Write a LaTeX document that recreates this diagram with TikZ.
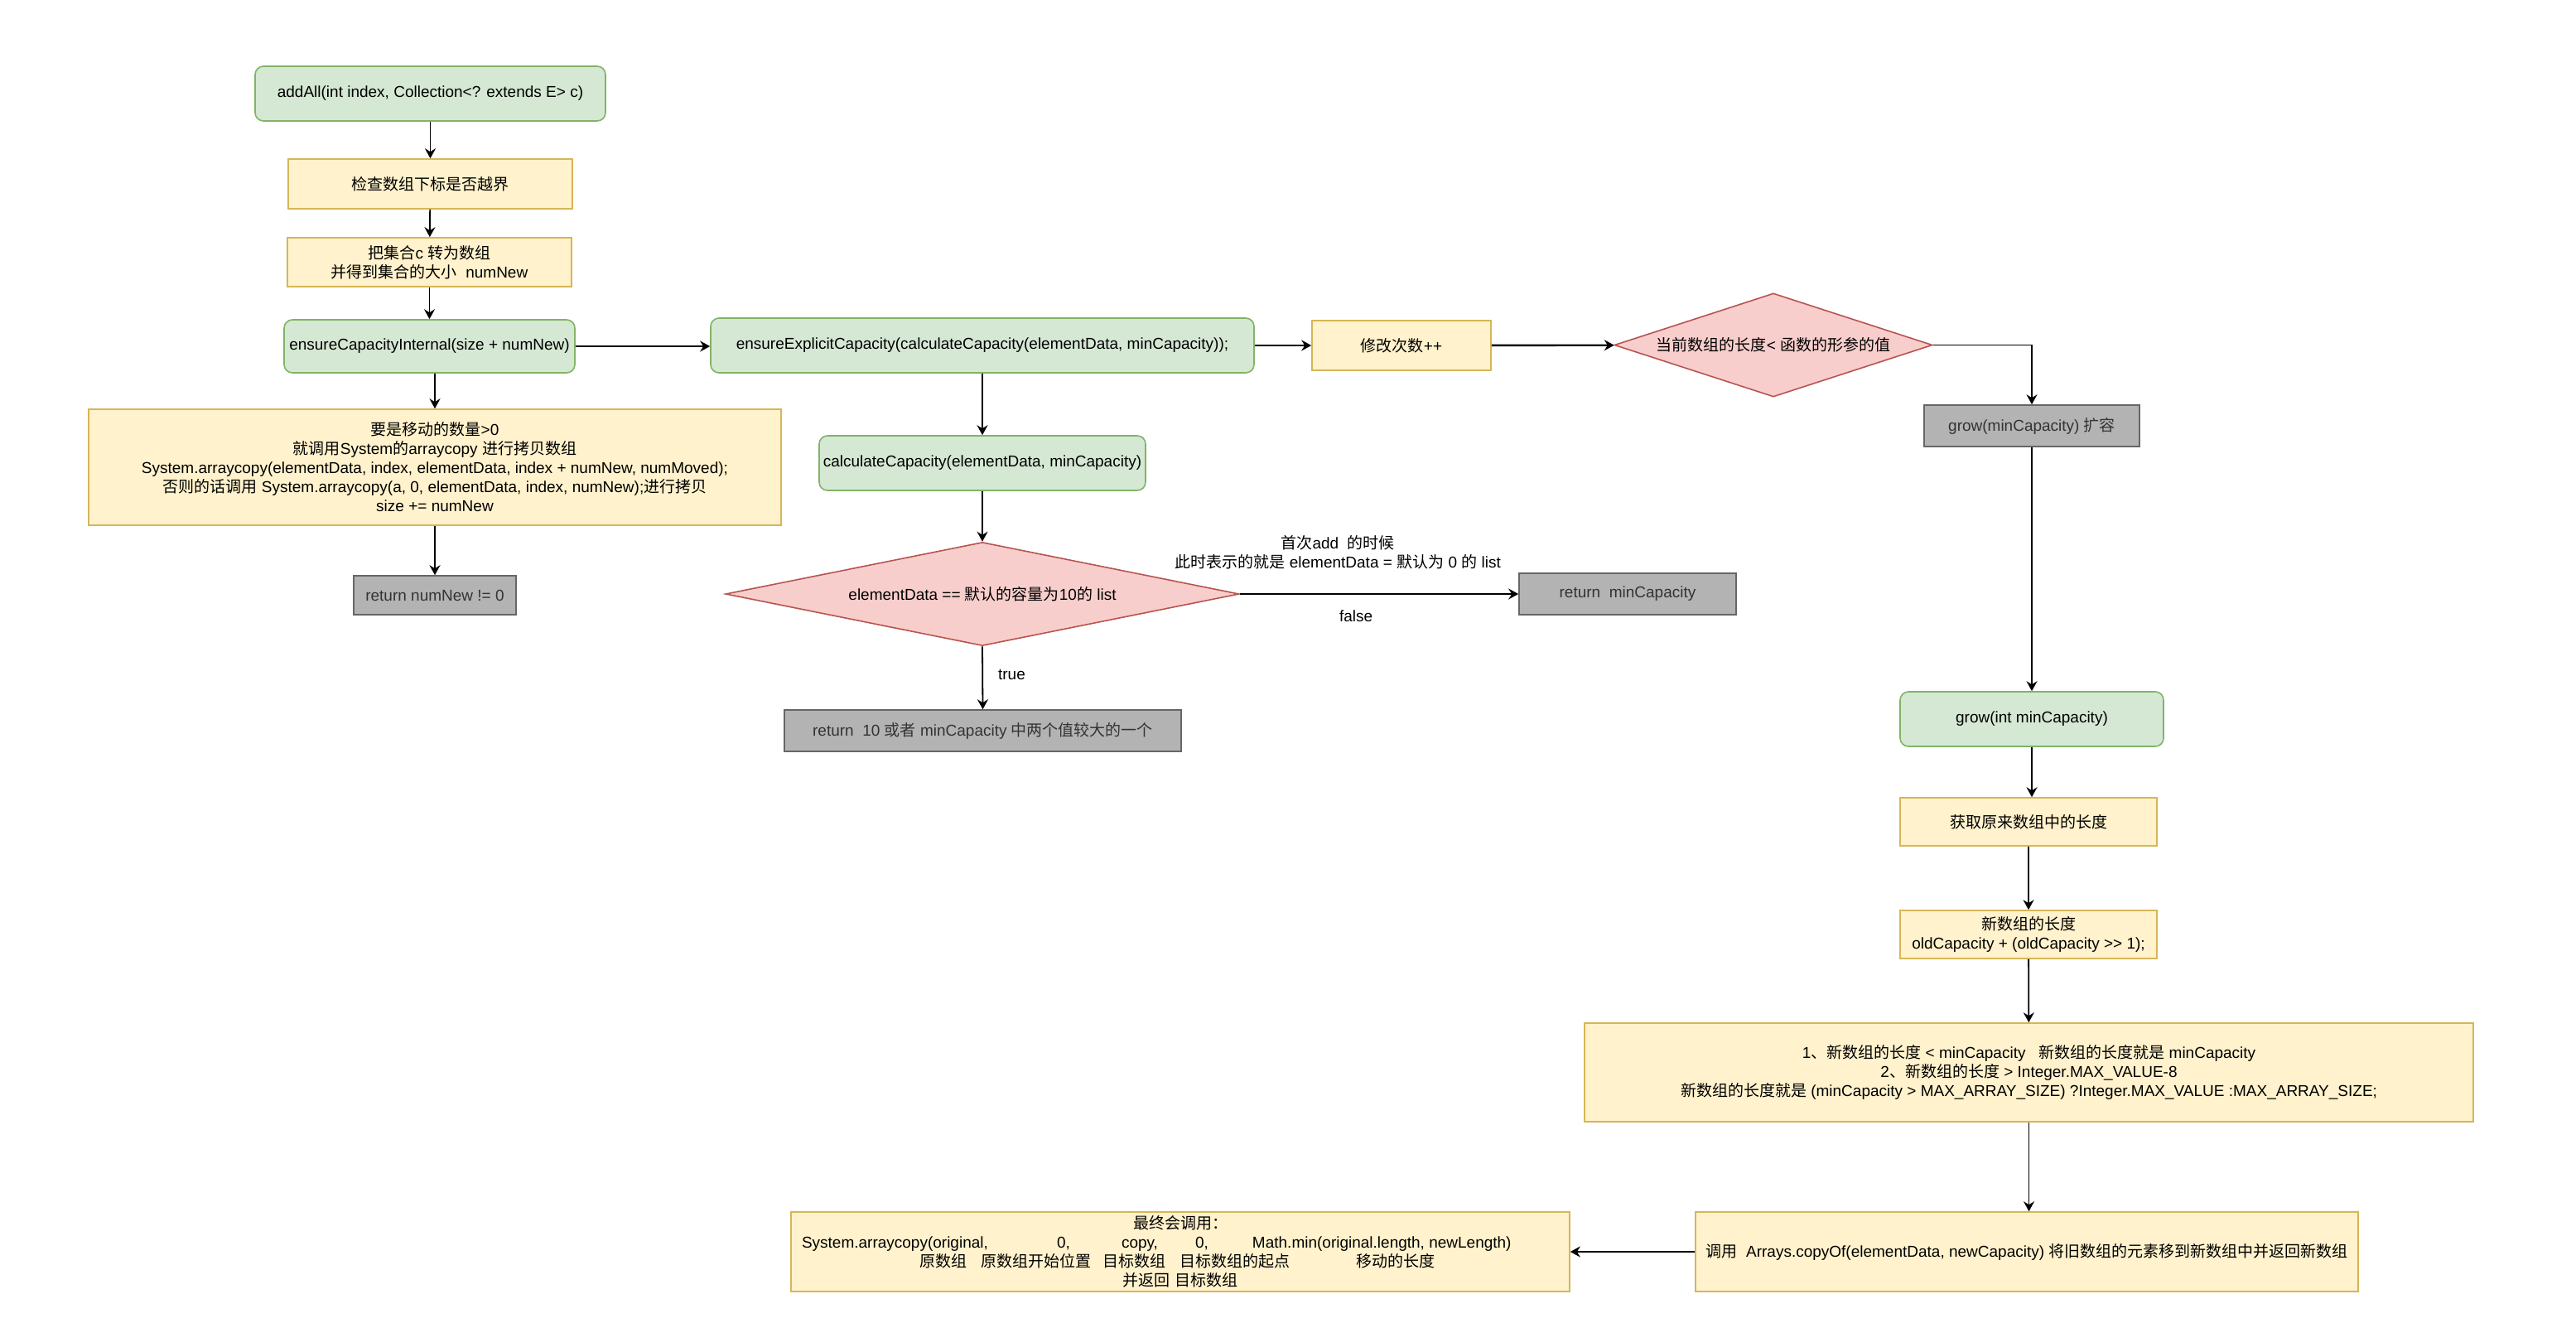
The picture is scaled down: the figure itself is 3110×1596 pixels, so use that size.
\documentclass[tikz,border=0pt]{standalone}
\usepackage{fontspec}
\setmainfont{Liberation Sans}
\newfontfamily\zhfont{Noto Sans CJK SC}
\newfontfamily\enfont{Liberation Sans}
\usetikzlibrary{shapes.geometric,arrows.meta}
\newXeTeXintercharclass\zhclass
\makeatletter
\newcount\zh@c
\def\zh@range#1#2{\zh@c=#1\relax\loop\XeTeXcharclass\zh@c=\zhclass\relax\ifnum\zh@c<#2\relax\advance\zh@c by 1\relax\repeat}
\zh@range{"3000}{"303F}
\zh@range{"4E00}{"9FFF}
\zh@range{"FF00}{"FFEF}
\makeatother
\XeTeXinterchartoks 0 \zhclass = {\zhfont}
\XeTeXinterchartoks 4095 \zhclass = {\zhfont}
\XeTeXinterchartoks \zhclass 0 = {\enfont}
\XeTeXinterchartoks \zhclass 4095 = {\enfont}
\XeTeXinterchartokenstate=1
\definecolor{gfill}{HTML}{D5E8D4}\definecolor{gstroke}{HTML}{82B366}
\definecolor{yfill}{HTML}{FFF2CC}\definecolor{ystroke}{HTML}{D6B656}
\definecolor{rfill}{HTML}{F8CECC}\definecolor{rstroke}{HTML}{B85450}
\definecolor{grfill}{HTML}{B3B3B3}\definecolor{grstroke}{HTML}{666666}
\definecolor{grtext}{HTML}{333333}
\begin{document}
\begin{tikzpicture}[x=0.5pt,y=-0.5pt,
  base/.style={draw, line width=0.8pt, inner sep=2pt, align=center, font=\fontsize{9.5}{11.5}\selectfont},
  sz/.style 2 args={minimum width=#1*0.5pt, minimum height=#2*0.5pt},
  grn/.style={base, fill=gfill, draw=gstroke, rounded corners=5pt},
  yel/.style={base, fill=yfill, draw=ystroke},
  gry/.style={base, fill=grfill, draw=grstroke, text=grtext},
  dia/.style={base, diamond, fill=rfill, draw=rstroke, inner sep=0pt},
  lbl/.style={font=\fontsize{9.5}{11.5}\selectfont, align=center, inner sep=0pt},
  arr/.style={draw=black, line width=0.9pt, -{Stealth[length=6pt,width=6.5pt,inset=2pt]}},
  arrb/.style={arr, line width=1.2pt}]
\fill[white] (0,0) rectangle (3110,1596);
\useasboundingbox (0,0) rectangle (3110,1596);

% left column
\node[grn, sz={423}{66}] (addall) at (519.5,113) {addAll(int index, Collection<? extends E> c)};
\node[yel, sz={343}{60}] (check) at (519.5,222) {检查数组下标是否越界};
\node[yel, sz={343}{59}] (toarr) at (518.5,316.5) {把集合c 转为数组\\并得到集合的大小~~numNew};
\node[grn, sz={351}{64}] (eci) at (518.5,418) {ensureCapacityInternal(size + numNew)};
\node[yel, sz={836}{140}] (big1) at (525,564) {要是移动的数量>0\\就调用System的arraycopy 进行拷贝数组\\System.arraycopy(elementData, index, elementData, index + numNew, numMoved);\\否则的话调用 System.arraycopy(a, 0, elementData, index, numNew);进行拷贝\\size += numNew};
\node[gry, sz={196}{47}] (retnum) at (525,718.5) {return numNew != 0};

% middle column
\node[grn, sz={656}{66}] (eec) at (1186,417) {ensureExplicitCapacity(calculateCapacity(elementData, minCapacity));};
\node[yel, sz={216}{60}] (modc) at (1692,417) {修改次数++};
\node[grn, sz={394}{66}] (calc) at (1186,559) {calculateCapacity(elementData, minCapacity)};
\node[dia, aspect=5, sz={620}{125}] (d1) at (1186,717) {elementData == 默认的容量为10的 list};
\node[gry, sz={262}{50}] (retmin) at (1965,717) {return~~minCapacity};
\node[gry, sz={479}{50}] (ret10) at (1186.5,882) {return~~10 或者 minCapacity 中两个值较大的一个};

% right column
\node[dia, aspect=3, sz={384}{125}] (d2) at (2141,416.5) {当前数组的长度< 函数的形参的值};
\node[gry, sz={260}{50}] (growmin) at (2453,514) {grow(minCapacity) 扩容};
\node[grn, sz={318}{66}] (growint) at (2453,868) {grow(int minCapacity)};
\node[yel, sz={310}{58}] (getlen) at (2449,992) {获取原来数组中的长度};
\node[yel, sz={310}{58}] (newlen) at (2449,1128) {新数组的长度\\oldCapacity + (oldCapacity >\kern0pt> 1);};
\node[yel, sz={1073}{119}] (big2) at (2449.5,1294.5) {1、新数组的长度 < minCapacity~~~新数组的长度就是 minCapacity\\2、新数组的长度 > Integer.MAX\_VALUE-8\\新数组的长度就是 (minCapacity > MAX\_ARRAY\_SIZE) ?Integer.MAX\_VALUE :MAX\_ARRAY\_SIZE;};
\node[yel, sz={800}{96}] (callbox) at (2447,1511) {调用~~Arrays.copyOf(elementData, newCapacity) 将旧数组的元素移到新数组中并返回新数组};
\node[yel, sz={940}{96}] (final) at (1425,1511) {最终会调用：\\
\makebox[457pt][l]{\makebox[154pt][l]{System.arraycopy(original,}\makebox[39pt][l]{0,}\makebox[44.5pt][l]{copy,}\makebox[34.5pt][l]{0,}Math.min(original.length, newLength)}\\
\makebox[315pt][l]{\makebox[37.25pt][l]{原数组}\makebox[73.25pt][l]{原数组开始位置}\makebox[46.8pt][l]{目标数组}\makebox[106.2pt][l]{目标数组的起点}移动的长度}\\
并返回 目标数组};

% connectors
\draw[arr] (addall) -- (check);
\draw[arr] (check) -- (toarr);
\draw[arr] (toarr) -- (eci);
\draw[arr] (eci.south -| big1.north) -- (big1.north);
\draw[arr] (big1) -- (retnum);
\draw[arrb] (eci.east) -- (eci.east -| eec.west);
\draw[arrb] (eec) -- (modc);
\draw[arrb] (modc) -- (d2);
\draw[arr] (d2.east) -| (growmin.north);
\draw[arr] (growmin) -- (growint);
\draw[arr] (growint.south) -- (growint.south |- getlen.north);
\draw[arr] (getlen) -- (newlen);
\draw[arr] (newlen) -- (big2);
\draw[arr] (big2.south) -- (big2.south |- callbox.north);
\draw[arrb] (callbox.west) -- (final.east);
\draw[arr] (eec) -- (calc);
\draw[arr] (calc) -- (d1);
\draw[arr] (d1.south) -- node[lbl, pos=0.445, anchor=west, xshift=9pt] (ltrue) {true} (ret10.north);
\draw[arrb] (d1.east) -- node[lbl, pos=0.417, yshift=-13.5pt] (lfalse) {false}
  node[lbl, pos=0.352, yshift=25pt] (lfirst) {首次add~~的时候\\此时表示的就是 elementData = 默认为 0 的 list} (retmin.west);
\end{tikzpicture}
\end{document}
